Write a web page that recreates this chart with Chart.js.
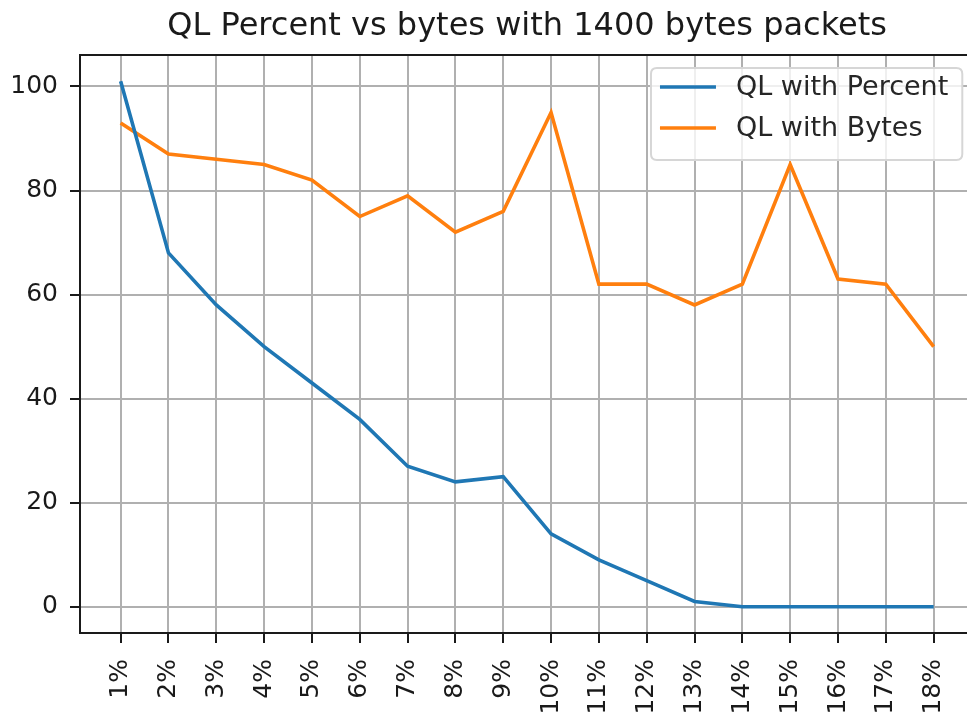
<!DOCTYPE html>
<html>
<head>
<meta charset="utf-8">
<script src="https://cdn.jsdelivr.net/npm/chart.js@4/dist/chart.umd.min.js"></script>
<style>
html,body{margin:0;padding:0;background:#fff;overflow:hidden;width:967px;height:713px;}
canvas{display:block;}
</style>
</head>
<body>
<canvas id="c" width="976" height="713" style="width:976px;height:713px"></canvas>
<script>
const categories = ["1%","2%","3%","4%","5%","6%","7%","8%","9%","10%","11%","12%","13%","14%","15%","16%","17%","18%"];
const qlPercent = [101,68,58,50,43,36,27,24,25,14,9,5,1,0,0,0,0,0];
const qlBytes = [93,87,86,85,82,75,79,72,76,95,62,62,58,62,85,63,62,50];
const yTicks = [0,20,40,60,80,100];
const titleText = "QL Percent vs bytes with 1400 bytes packets";
const seriesNames = ["QL with Percent","QL with Bytes"];

const FONT = "'DejaVu Sans', sans-serif";

const frame = {
  id: 'frame',
  afterDatasetsDraw(chart) {
    const {ctx, chartArea: a} = chart;
    ctx.save();
    ctx.strokeStyle = '#1a1a1a';
    ctx.lineWidth = 2;
    ctx.strokeRect(a.left, a.top, a.right - a.left, a.bottom - a.top);
    ctx.restore();
  },
  afterDraw(chart) {
    const {ctx, chartArea: a} = chart;
    const ds = chart.data.datasets;
    ctx.save();
    const fs = 27;
    ctx.font = fs + "px " + FONT;
    const rowH = 41;
    let maxW = 0;
    ds.forEach(d => { maxW = Math.max(maxW, ctx.measureText(d.label).width); });
    const lineLen = 56, gap = 20, padX = 9, padY = 9;
    const w = padX + lineLen + gap + maxW + 14;
    const h = padY * 2 + rowH * ds.length - 8;
    const x = a.right - 12 - w;
    const y = a.top + 13;
    const r = 6;
    ctx.beginPath();
    ctx.moveTo(x + r, y);
    ctx.lineTo(x + w - r, y);
    ctx.quadraticCurveTo(x + w, y, x + w, y + r);
    ctx.lineTo(x + w, y + h - r);
    ctx.quadraticCurveTo(x + w, y + h, x + w - r, y + h);
    ctx.lineTo(x + r, y + h);
    ctx.quadraticCurveTo(x, y + h, x, y + h - r);
    ctx.lineTo(x, y + r);
    ctx.quadraticCurveTo(x, y, x + r, y);
    ctx.closePath();
    ctx.fillStyle = 'rgba(255,255,255,0.8)';
    ctx.fill();
    ctx.strokeStyle = '#d6d6d6';
    ctx.lineWidth = 2;
    ctx.stroke();
    ds.forEach((d, i) => {
      const cy = y + padY + 10 + i * rowH;
      ctx.strokeStyle = d.borderColor;
      ctx.lineWidth = 3.6;
      ctx.beginPath();
      ctx.moveTo(x + padX, cy);
      ctx.lineTo(x + padX + lineLen, cy);
      ctx.stroke();
      ctx.fillStyle = '#262626';
      ctx.textBaseline = 'middle';
      ctx.textAlign = 'left';
      ctx.fillText(d.label, x + padX + lineLen + gap, cy + 1);
    });
    ctx.restore();
  }
};

new Chart(document.getElementById('c'), {
  type: 'line',
  data: {
    datasets: [
      {label: seriesNames[0], data: qlPercent.map((v, i) => ({x: i, y: v})), borderColor: '#1f77b4', backgroundColor: '#1f77b4', borderWidth: 3.6, pointRadius: 0, tension: 0},
      {label: seriesNames[1], data: qlBytes.map((v, i) => ({x: i, y: v})), borderColor: '#ff7f0e', backgroundColor: '#ff7f0e', borderWidth: 3.6, pointRadius: 0, tension: 0}
    ]
  },
  options: {
    responsive: false,
    animation: false,
    layout: {padding: {left: 0, right: 1.7, top: 0, bottom: 0}},
    plugins: {
      legend: {display: false},
      tooltip: {enabled: false},
      title: {
        display: true,
        text: titleText,
        fullSize: false,
        color: '#1a1a1a',
        font: {family: FONT, size: 32, weight: 'normal', lineHeight: 1.2},
        padding: {top: 7, bottom: 9.6}
      }
    },
    scales: {
      x: {
        type: 'linear',
        min: -0.85,
        max: 17.85,
        afterFit(s) { s.height = 80; s.paddingLeft = 0; s.paddingRight = 0; },
        afterBuildTicks(s) { s.ticks = categories.map((c, i) => ({value: i})); },
        ticks: {
          autoSkip: false,
          maxRotation: 90,
          minRotation: 90,
          padding: 16,
          color: '#1a1a1a',
          font: {family: FONT, size: 25},
          callback: (v) => categories[v]
        },
        grid: {color: '#b0b0b0', lineWidth: 2, tickLength: 10, tickColor: '#1a1a1a', tickWidth: 2},
        border: {display: true, color: '#1a1a1a', width: 2}
      },
      y: {
        type: 'linear',
        min: -5.05,
        max: 106.05,
        afterFit(s) { s.width = 80; s.paddingTop = 0; s.paddingBottom = 0; },
        afterBuildTicks(s) { s.ticks = yTicks.map(v => ({value: v})); },
        ticks: {
          padding: 12,
          color: '#1a1a1a',
          font: {family: FONT, size: 25},
          callback: (v) => String(v)
        },
        grid: {color: '#b0b0b0', lineWidth: 2, tickLength: 10, tickColor: '#1a1a1a', tickWidth: 2},
        border: {display: true, color: '#1a1a1a', width: 2}
      }
    }
  },
  plugins: [frame]
});
</script>
</body>
</html>
